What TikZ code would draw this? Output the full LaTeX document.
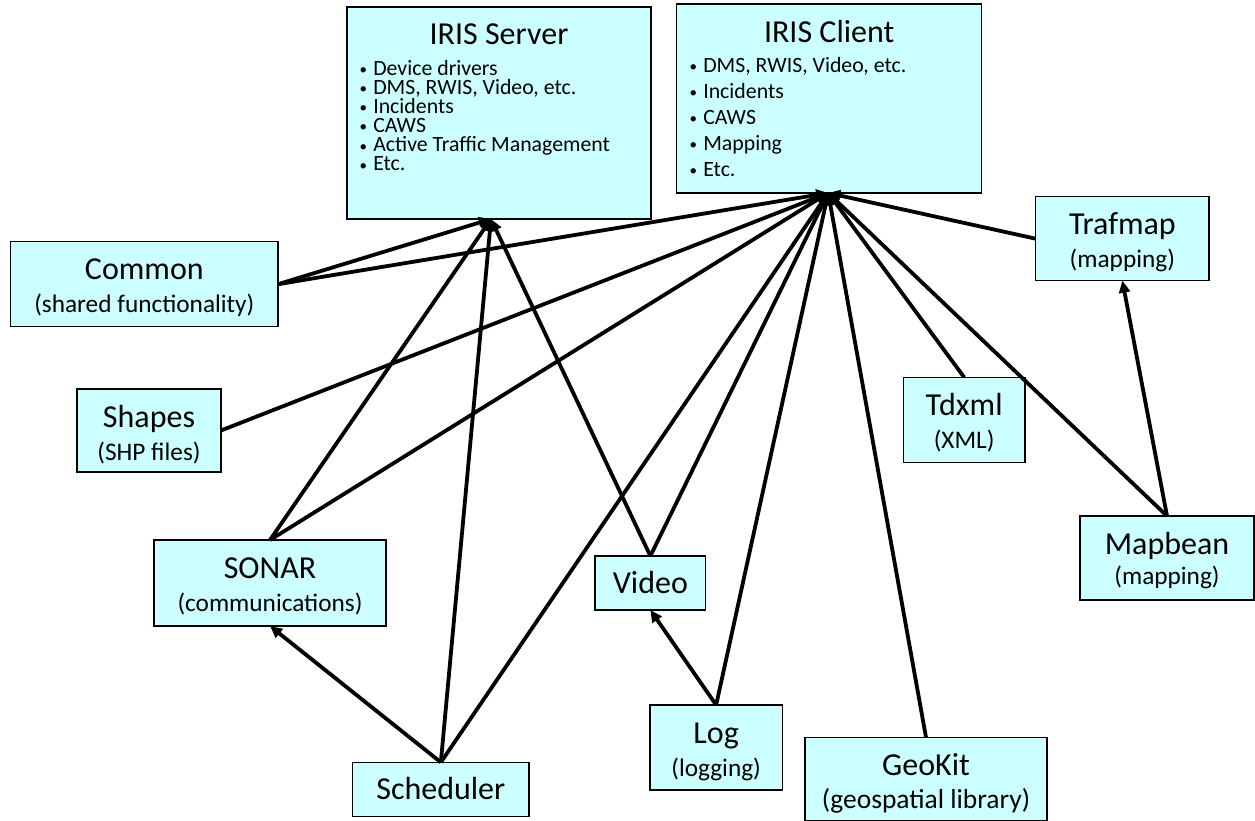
\documentclass[tikz,border=0pt]{standalone}
\usepackage{fontspec}
\setmainfont{Carlito}
\usetikzlibrary{arrows.meta}
\definecolor{boxfill}{HTML}{CCFFFF}
\newcommand\twoline[4]{\parbox[t][#2][t]{#1}{\centering\fontsize{32}{38}\selectfont\rule{0pt}{38pt}#3\par\fontsize{25.3}{33}\selectfont #4\par}}
\newcommand\oneline[3]{\parbox[t][#2][t]{#1}{\centering\fontsize{32}{37}\selectfont\rule{0pt}{37pt}#3\par}}
\newcommand\bul[1]{\makebox[#1][l]{\raisebox{0.6pt}{\fontsize{15}{15}\selectfont •}}}
\tikzset{
  box/.style={draw=black, line width=1.5pt, fill=boxfill, inner sep=0pt, outer sep=0pt, anchor=north west},
  edge/.style={line width=3.8pt, -{Triangle[length=12pt,width=11pt]}}
}
\begin{document}
\begin{tikzpicture}[x=1pt,y=-1pt]
\useasboundingbox (0,0) rectangle (1255,821);
\node[box] (server) at (347,7) {\parbox[t][212pt][t]{304pt}{\centering\fontsize{32}{38}\selectfont\rule{0pt}{38pt}IRIS Server\par
  \vspace{11.2pt}\raggedright\fontsize{21.8}{19.1}\selectfont\leftskip=12.5pt
  \bul{13.8pt}Device drivers\par
  \bul{13.8pt}DMS, RWIS, Video, etc.\par
  \bul{13.8pt}Incidents\par
  \bul{13.8pt}CAWS\par
  \bul{13.8pt}Active Traffic Management\par
  \bul{13.8pt}Etc.\par}};
\node[box] (client) at (676.7,4) {\parbox[t][189pt][t]{305pt}{\centering\fontsize{32}{39}\selectfont\rule{0pt}{39pt}IRIS Client\par
  \vspace{3.4pt}\raggedright\fontsize{21.8}{26}\selectfont\leftskip=13pt
  \bul{13.6pt}DMS, RWIS, Video, etc.\par
  \bul{13.6pt}Incidents\par
  \bul{13.6pt}CAWS\par
  \bul{13.6pt}Mapping\par
  \bul{13.6pt}Etc.\par}};
\node[box] (common) at (10.7,241.7) {\twoline{267.3pt}{85pt}{Common}{(shared functionality)}};
\node[box] (trafmap) at (1035.7,196.7) {\twoline{173.3pt}{84pt}{Trafmap}{(mapping)}};
\node[box] (shapes) at (77,389) {\twoline{144pt}{83pt}{Shapes}{(SHP files)}};
\node[box] (tdxml) at (903.3,377.3) {\twoline{121.7pt}{85pt}{Tdxml}{(XML)}};
\node[box] (sonar) at (154,540) {\twoline{232pt}{86pt}{SONAR}{(communications)}};
\node[box] (video) at (595,556) {\oneline{110.7pt}{54pt}{Video}};
\node[box] (mapbean) at (1080,516) {\twoline{174pt}{84pt}{Mapbean}{\vspace*{-3pt}(mapping)}};
\node[box] (log) at (650,705) {\twoline{132.3pt}{85pt}{Log}{(logging)}};
\node[box] (geokit) at (805,737.3) {\twoline{242pt}{83pt}{GeoKit}{\fontsize{27.5}{33}\selectfont (geospatial library)}};
\node[box] (scheduler) at (352.7,762.3) {\oneline{176.3pt}{54.4pt}{Scheduler}};
\coordinate (sIn) at ([xshift=-8pt]server.south);
\coordinate (cIn) at ([xshift=-1pt]client.south);
\draw[edge] (common.east) -- (sIn);
\draw[edge] (common.east) -- (cIn);
\draw[edge] (shapes.east) -- (cIn);
\draw[edge] (sonar.north) -- (sIn);
\draw[edge] (sonar.north) -- (cIn);
\draw[edge] (scheduler.north) -- (sonar.south);
\draw[edge] (scheduler.north) -- (sIn);
\draw[edge] (scheduler.north) -- (cIn);
\draw[edge] (video.north) -- (sIn);
\draw[edge] (video.north) -- (cIn);
\draw[edge] (log.north) -- (video.south);
\draw[edge] (log.north) -- (cIn);
\draw[edge] (geokit.north) -- (cIn);
\draw[edge] (tdxml.north) -- (cIn);
\draw[edge] (mapbean.north) -- (cIn);
\draw[edge] (mapbean.north) -- (trafmap.south);
\draw[edge] (trafmap.west) -- (cIn);
\end{tikzpicture}
\end{document}
